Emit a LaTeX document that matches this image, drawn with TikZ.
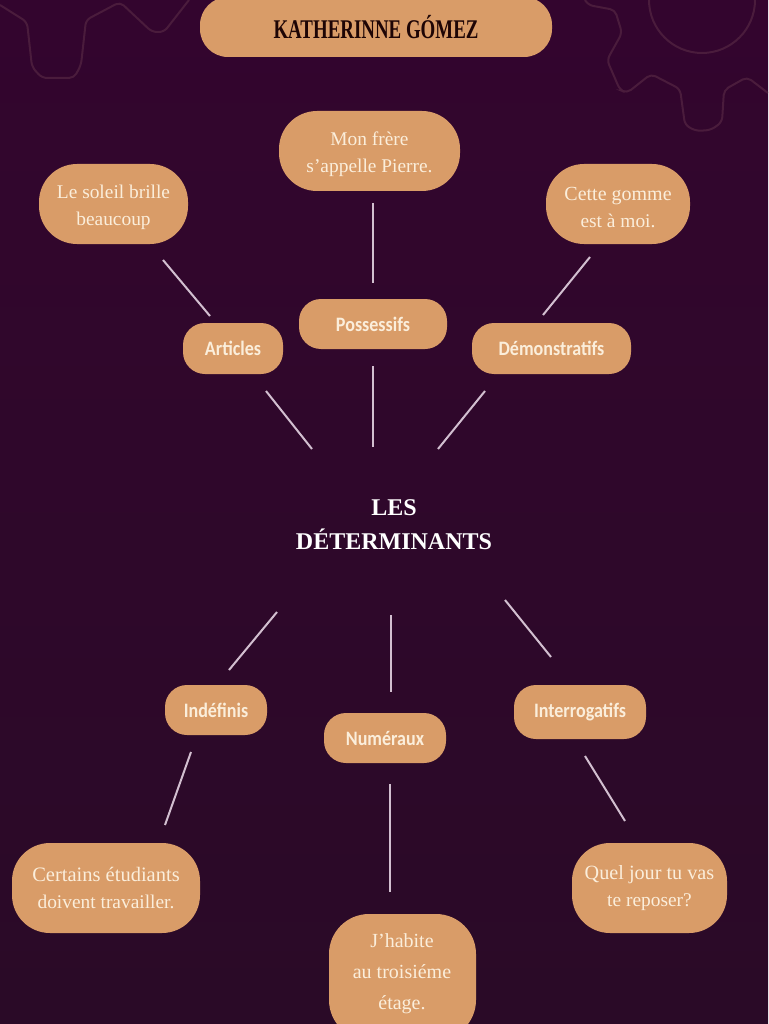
\documentclass[tikz,border=0pt]{standalone}
\usepackage{fontspec}
\usepackage{graphicx}
\setmainfont{Liberation Serif}
\newfontfamily\labelfont[FakeStretch=0.88]{Carlito}
\definecolor{bgtop}{HTML}{33052E}
\definecolor{bgbot}{HTML}{2A0A27}
\definecolor{boxfill}{HTML}{D99C68}
\definecolor{boxtext}{HTML}{FBEEDB}
\definecolor{gearline}{HTML}{4A1C3C}
\definecolor{linkline}{HTML}{D2BFD0}
\definecolor{titletext}{HTML}{1E0505}
\newcommand{\lift}{\rule{0pt}{19.5pt}}
\tikzset{
  x=1pt,y=1pt,
  pill/.style={fill=boxfill,rounded corners=#1,inner sep=0pt,outer sep=0pt,text=boxtext,align=center},
  pill/.default=30pt,
  example/.style={pill=38pt,font=\fontsize{19.4}{27}\selectfont},
  kind/.style={pill=22pt,font=\labelfont\bfseries\fontsize{20.5}{24}\selectfont},
  link/.style={draw=linkline,line width=2pt},
  gear/.style={draw=gearline,line width=2pt,rounded corners=5pt},
}
\newcommand{\pillnode}[7]{% style, name, x0, y0, x1, y1, text
  \node[#1,minimum width=#5pt-#3pt,minimum height=#6pt-#4pt] (#2) at ({(#3+#5)/2},{-(#4+#6)/2}) {#7};}
\begin{document}
\begin{tikzpicture}
\useasboundingbox (0,0) rectangle (768,-1024);
\fill[bottom color=bgbot,top color=bgtop] (0,0) rectangle (768,-1024);
\begin{scope}
\clip (0,0) rectangle (768,-1024);
% gears
\draw[gear] (0,-5) -- (27,-22) -- (32,-67) -- (42,-78) -- (74,-78) -- (81,-65) -- (86,-20) -- (120,-2) -- (152,-32) -- (164,-32) -- (189,0);
\draw[gear] (585,0) -- (588,-5) -- (615,-10) -- (622,-33) -- (607,-60) -- (620,-90) -- (627,-93) -- (651,-74) -- (680,-89) -- (685,-125) -- (696,-131) -- (711,-130) -- (722,-122) -- (724,-90) -- (747,-77) -- (768,-93);
\draw[draw=gearline,line width=2pt] (702,0) ellipse [x radius=53,y radius=53];
% boxes
\pillnode{pill=28pt}{title}{200}{-3}{552}{57}{\textcolor{titletext}{\scalebox{0.70}[1]{\bfseries\fontsize{27}{30}\selectfont KATHERINNE GÓMEZ}}}
\pillnode{example}{frere}{279}{111}{460}{191}{\lift Mon frère\\s’appelle Pierre.}
\pillnode{example}{soleil}{39}{164}{188}{244}{\lift Le soleil brille\\beaucoup}
\pillnode{example}{gomme}{546}{164}{690}{244}{\lift\fontsize{20}{27}\selectfont Cette gomme\\est à moi.}
\pillnode{kind}{articles}{183}{323}{283}{374}{Articles}
\pillnode{kind}{possessifs}{299}{299}{447}{349}{Possessifs}
\pillnode{kind}{demonstratifs}{472}{323}{631}{374}{Démonstratifs}
\pillnode{kind}{indefinis}{165}{685}{267}{735}{Indéfinis}
\pillnode{kind}{numeraux}{324}{713}{446}{763}{Numéraux}
\pillnode{kind}{interrogatifs}{514}{685}{646}{739}{Interrogatifs}
\pillnode{example}{certains}{12}{843}{200}{933}{\fontsize{20.5}{27}\selectfont Certains étudiants\\doivent travailler.}
\pillnode{example}{quel}{572}{843}{727}{933}{\fontsize{20.2}{27}\selectfont Quel jour tu vas\\te reposer?}
\node[pill=40pt,minimum width=147pt,minimum height=126pt] (habite) at (402.5,-977) {};
\node[text=boxtext,align=center,font=\fontsize{20}{31}\selectfont] (habitetext) at (402,-974) {J’habite\\au troisiéme\\étage.};
\node[text=white,align=center,font=\bfseries\fontsize{24}{34}\selectfont] (hub) at (394,-524.5) {LES\\DÉTERMINANTS};
% connector ends
\coordinate (a1) at (163,-260); \coordinate (a2) at (210,-316);
\coordinate (b1) at (373,-203); \coordinate (b2) at (373,-283);
\coordinate (c1) at (590,-257); \coordinate (c2) at (543,-315);
\coordinate (d1) at (266,-391); \coordinate (d2) at (312,-449);
\coordinate (e1) at (372.5,-366); \coordinate (e2) at (372.5,-447);
\coordinate (f1) at (485,-391); \coordinate (f2) at (438,-449);
\coordinate (g1) at (277,-612); \coordinate (g2) at (229,-670);
\coordinate (h1) at (390.5,-615); \coordinate (h2) at (390.5,-692);
\coordinate (i1) at (505,-600); \coordinate (i2) at (551,-657);
\coordinate (j1) at (191,-752); \coordinate (j2) at (165,-825);
\coordinate (k1) at (390,-784); \coordinate (k2) at (390,-892);
\coordinate (l1) at (585,-756); \coordinate (l2) at (625,-821);
\draw[link] (a1) -- (a2);
\draw[link] (b1) -- (b2);
\draw[link] (c1) -- (c2);
\draw[link] (d1) -- (d2);
\draw[link] (e1) -- (e2);
\draw[link] (f1) -- (f2);
\draw[link] (g1) -- (g2);
\draw[link] (h1) -- (h2);
\draw[link] (i1) -- (i2);
\draw[link] (j1) -- (j2);
\draw[link] (k1) -- (k2);
\draw[link] (l1) -- (l2);
\end{scope}
\end{tikzpicture}
\end{document}
